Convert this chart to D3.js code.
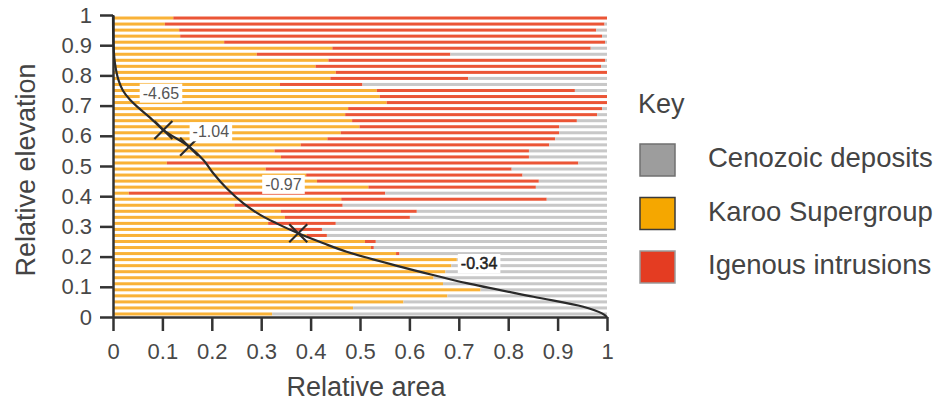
<!DOCTYPE html>
<html>
<head>
<meta charset="utf-8">
<script src="https://cdn.jsdelivr.net/npm/d3@7"></script>
<style>
body { margin: 0; background: #fff; }
text { font-family: "Liberation Sans", Arial, sans-serif; }
</style>
</head>
<body>
<div id="chart"></div>
<script>
// elevation bins (mid points), top to bottom
var elevation = [0.99, 0.97, 0.95, 0.93, 0.91, 0.89, 0.87, 0.85, 0.83, 0.81,
                 0.79, 0.77, 0.75, 0.73, 0.71, 0.69, 0.67, 0.65, 0.63, 0.61,
                 0.59, 0.57, 0.55, 0.53, 0.51, 0.49, 0.47, 0.45, 0.43, 0.41,
                 0.39, 0.37, 0.35, 0.33, 0.31, 0.29, 0.27, 0.25, 0.23, 0.21,
                 0.19, 0.17, 0.15, 0.13, 0.11, 0.09, 0.07, 0.05, 0.03, 0.01];

// fraction of area in each bin
var karoo = [0.122, 0.105, 0.134, 0.136, 0.225, 0.444, 0.291, 0.436, 0.410, 0.451,
             0.440, 0.338, 0.534, 0.540, 0.554, 0.476, 0.470, 0.484, 0.499, 0.461,
             0.434, 0.380, 0.327, 0.340, 0.109, 0.309, 0.391, 0.413, 0.517, 0.032,
             0.462, 0.246, 0.340, 0.348, 0.314, 0.358, 0.392, 0.510, 0.522, 0.573,
             0.696, 0.685, 0.673, 0.649, 0.668, 0.744, 0.677, 0.588, 0.486, 0.322];
var igneous = [0.878, 0.890, 0.844, 0.854, 0.771, 0.523, 0.392, 0.560, 0.578, 0.549,
               0.279, 0.167, 0.401, 0.460, 0.446, 0.514, 0.510, 0.455, 0.404, 0.442,
               0.461, 0.503, 0.515, 0.502, 0.833, 0.498, 0.438, 0.449, 0.339, 0.519,
               0.416, 0.219, 0.275, 0.253, 0.137, 0.065, 0.041, 0.022, 0.006, 0.007,
               0, 0, 0, 0, 0, 0, 0, 0, 0, 0];
var cenozoic = [0, 0.005, 0.022, 0.010, 0.004, 0.033, 0.317, 0.004, 0.012, 0,
                0.281, 0.495, 0.065, 0, 0, 0.010, 0.020, 0.061, 0.097, 0.097,
                0.105, 0.117, 0.158, 0.158, 0.058, 0.193, 0.171, 0.138, 0.144, 0.449,
                0.122, 0.535, 0.385, 0.399, 0.549, 0.577, 0.567, 0.468, 0.472, 0.420,
                0.304, 0.315, 0.327, 0.351, 0.332, 0.256, 0.323, 0.412, 0.514, 0.678];

// hypsometric curve
var curveArea = [0, 0.001, 0.004, 0.011, 0.02, 0.034, 0.05, 0.075, 0.102, 0.154, 0.183, 0.203,
                 0.23, 0.264, 0.298, 0.331, 0.375, 0.426, 0.473, 0.581, 0.648, 0.716, 0.851,
                 0.952, 0.99, 1.0];
var curveElev = [1, 0.9, 0.84, 0.785, 0.75, 0.72, 0.695, 0.66, 0.619, 0.564, 0.52, 0.476,
                 0.426, 0.376, 0.338, 0.31, 0.277, 0.244, 0.216, 0.167, 0.139, 0.112, 0.067,
                 0.034, 0.012, 0];

// slope breaks marked with a cross
var markerArea = [0.102, 0.154, 0.375];
var markerElev = [0.619, 0.564, 0.277];

// slope labels
var slopeText = ["-4.65", "-1.04", "-0.97", "-0.34"];
var slopeArea = [0.097, 0.198, 0.345, 0.741];
var slopeElev = [0.742, 0.614, 0.44, 0.178];

var xTicks = [0, 0.1, 0.2, 0.3, 0.4, 0.5, 0.6, 0.7, 0.8, 0.9, 1];
var yTicks = [0, 0.1, 0.2, 0.3, 0.4, 0.5, 0.6, 0.7, 0.8, 0.9, 1];

var keyLabels = ["Cenozoic deposits", "Karoo Supergroup", "Igenous intrusions"];
var keyColors = ["#9d9d9d", "#f5a700", "#e43c22"];
var keyStroke = ["#707070", "#3a3a3a", "#9a9a9a"];

var barColors = {karoo: "#f9b237", igneous: "#eb5536", cenozoic: "#c8c8c8"};

var W = 940, H = 405;
var svg = d3.select("#chart").append("svg")
	.attr("width", W)
	.attr("height", H);

var x = d3.scaleLinear().domain([0, 1]).range([113, 607]);
var y = d3.scaleLinear().domain([0, 1]).range([317, 15]);
var yBand = d3.scaleBand()
	.domain(elevation)
	.range([15, 317])
	.paddingInner(0.5)
	.paddingOuter(0.25);

var rows = elevation.map(function(e, i) {
	return {elev: e, karoo: karoo[i], igneous: igneous[i], cenozoic: cenozoic[i]};
});
var series = d3.stack().keys(["karoo", "igneous", "cenozoic"])(rows);

// the bars
svg.append("g").selectAll("g")
	.data(series)
	.enter()
	.append("g")
	.attr("fill", function(d) { return barColors[d.key]; })
	.selectAll("rect")
	.data(function(d) { return d; })
	.enter()
	.append("rect")
	.attr("x", function(d) { return x(d[0]); })
	.attr("width", function(d) { return Math.max(0, x(d[1]) - x(d[0])); })
	.attr("y", function(d) { return yBand(d.data.elev); })
	.attr("height", yBand.bandwidth());

// axes
var fmt = function(d) { return String(d); };
var yAxis = svg.append("g")
	.attr("transform", "translate(113,0)")
	.call(d3.axisLeft(y).tickValues(yTicks).tickFormat(fmt).tickSize(13).tickSizeOuter(0).tickPadding(8));
var xAxis = svg.append("g")
	.attr("transform", "translate(0,317)")
	.call(d3.axisBottom(x).tickValues(xTicks).tickFormat(fmt).tickSize(14).tickSizeOuter(0).tickPadding(12));

[xAxis, yAxis].forEach(function(a) {
	a.select(".domain").attr("stroke", "#333").attr("stroke-width", 2.5);
	a.selectAll(".tick line").attr("stroke", "#333").attr("stroke-width", 2.5);
	a.selectAll(".tick text")
		.attr("fill", "#484848")
		.attr("font-size", "22px")
		.style("font-family", "'Liberation Sans', Arial, sans-serif");
});

// curve
var line = d3.line()
	.x(function(d) { return x(d[0]); })
	.y(function(d) { return y(d[1]); })
	.curve(d3.curveCatmullRom.alpha(0.5));
svg.append("path")
	.datum(d3.zip(curveArea, curveElev))
	.attr("d", line)
	.attr("fill", "none")
	.attr("stroke", "#2a2a2a")
	.attr("stroke-width", 2.2);

// crosses
var cross = svg.append("g").selectAll("g")
	.data(d3.zip(markerArea, markerElev))
	.enter()
	.append("g")
	.attr("transform", function(d) { return "translate(" + x(d[0]) + "," + y(d[1]) + ")"; });
cross.append("line").attr("x1", -9).attr("y1", -9).attr("x2", 9).attr("y2", 9);
cross.append("line").attr("x1", -9).attr("y1", 9).attr("x2", 9).attr("y2", -9);
cross.selectAll("line").attr("stroke", "#2a2a2a").attr("stroke-width", 2.2);

// slope labels with a white box behind
var lab = svg.append("g").selectAll("g")
	.data(d3.zip(slopeText, slopeArea, slopeElev))
	.enter()
	.append("g")
	.attr("transform", function(d) { return "translate(" + x(d[1]) + "," + y(d[2]) + ")"; });
lab.append("text")
	.attr("text-anchor", "middle")
	.attr("dy", "0.36em")
	.attr("font-size", "16px")
	.attr("fill", function(d, i) { return i == 3 ? "#222" : "#555"; })
	.attr("stroke", function(d, i) { return i == 3 ? "#222" : "none"; })
	.attr("stroke-width", 0.5)
	.text(function(d) { return d[0]; });
lab.each(function() {
	var g = d3.select(this);
	var bb = g.select("text").node().getBBox();
	g.insert("rect", "text")
		.attr("x", bb.x - 3)
		.attr("y", bb.y - 1)
		.attr("width", bb.width + 6)
		.attr("height", bb.height + 2)
		.attr("fill", "#fff");
});

// axis titles
svg.append("text")
	.attr("x", 366)
	.attr("y", 396)
	.attr("text-anchor", "middle")
	.attr("font-size", "27px")
	.attr("fill", "#444")
	.text("Relative area");
svg.append("text")
	.attr("transform", "translate(35,170) rotate(-90)")
	.attr("text-anchor", "middle")
	.attr("font-size", "27px")
	.attr("fill", "#444")
	.text("Relative elevation");

// key
svg.append("text")
	.attr("x", 638)
	.attr("y", 113)
	.attr("font-size", "27px")
	.attr("fill", "#444")
	.text("Key");
var key = svg.append("g").selectAll("g")
	.data(keyLabels)
	.enter()
	.append("g")
	.attr("transform", function(d, i) { return "translate(640," + (144 + i * 53.5) + ")"; });
key.append("rect")
	.attr("width", 35)
	.attr("height", 32)
	.attr("fill", function(d, i) { return keyColors[i]; })
	.attr("stroke", function(d, i) { return keyStroke[i]; })
	.attr("stroke-width", 1.5);
key.append("text")
	.attr("x", 68)
	.attr("y", 23)
	.attr("font-size", "27.5px")
	.attr("fill", "#444")
	.text(function(d) { return d; });
</script>
</body>
</html>
